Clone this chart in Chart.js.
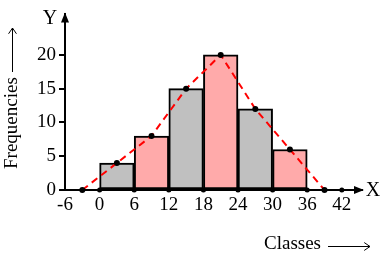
<!DOCTYPE html>
<html>
<head>
<meta charset="utf-8">
<script src="https://cdn.jsdelivr.net/npm/chart.js@4"></script>
<style>
  html, body { margin: 0; padding: 0; background: #fff; }
  #wrap { width: 385px; height: 256px; }
</style>
</head>
<body>
<div id="wrap"><canvas id="c"></canvas></div>
<script>
// class midpoints and frequencies
const classMids = [3, 9, 15, 21, 27, 33];
const frequencies = [4, 8, 15, 20, 12, 6];
const barColors = ['#c0c0c0', '#ffaaaa', '#c0c0c0', '#ffaaaa', '#c0c0c0', '#ffaaaa'];

// frequency polygon (closed at the empty classes on either side)
const polyX = [-3, 3, 9, 15, 21, 27, 33, 39];
const polyY = [0, 4, 8, 15, 20, 12, 6, 0];

const xTicks = [-6, 0, 6, 12, 18, 24, 30, 36, 42];
const yTicks = [0, 5, 10, 15, 20];
const axisDots = [0, 6, 12, 18, 24, 30, 36, 42];

const xTitle = 'Classes';
const yTitle = 'Frequencies';

const serif = "'Liberation Serif', 'Times New Roman', serif";

function longArrow(ctx, x1, y1, x2, y2) {
    // thin line with an open head, like a long rightwards arrow
    const ang = Math.atan2(y2 - y1, x2 - x1);
    ctx.beginPath();
    ctx.moveTo(x1, y1);
    ctx.lineTo(x2, y2);
    ctx.moveTo(x2 - 7 * Math.cos(ang - 0.6), y2 - 7 * Math.sin(ang - 0.6));
    ctx.lineTo(x2, y2);
    ctx.lineTo(x2 - 7 * Math.cos(ang + 0.6), y2 - 7 * Math.sin(ang + 0.6));
    ctx.stroke();
}

// arrows, X / Y letters and the axis titles
const axisDecor = {
    id: 'axisDecor',
    afterDraw(chart) {
        const ctx = chart.ctx, a = chart.chartArea;
        ctx.save();
        ctx.fillStyle = '#000';
        ctx.strokeStyle = '#000';
        // y arrow
        ctx.beginPath();
        ctx.moveTo(a.left, a.top - 2);
        ctx.lineTo(a.left - 4, a.top + 8);
        ctx.lineTo(a.left + 4, a.top + 8);
        ctx.closePath();
        ctx.fill();
        // x arrow
        ctx.beginPath();
        ctx.moveTo(a.right + 2, a.bottom);
        ctx.lineTo(a.right - 8, a.bottom - 4);
        ctx.lineTo(a.right - 8, a.bottom + 4);
        ctx.closePath();
        ctx.fill();
        ctx.font = '20px ' + serif;
        ctx.textBaseline = 'middle';
        ctx.textAlign = 'center';
        ctx.fillText('Y', a.left - 15, a.top + 4);
        ctx.fillText('X', a.right + 11, a.bottom + 1);

        // x title
        ctx.font = '19px ' + serif;
        ctx.textAlign = 'left';
        ctx.fillText(xTitle, 264, 244);
        ctx.lineWidth = 1;
        longArrow(ctx, 328, 246.5, 370, 246.5);

        // y title (rotated)
        ctx.save();
        ctx.translate(12, 169);
        ctx.rotate(-Math.PI / 2);
        ctx.textAlign = 'left';
        ctx.fillText(yTitle, 0, 0);
        ctx.restore();
        longArrow(ctx, 12.5, 72, 12.5, 28);
        ctx.restore();
    }
};

new Chart(document.getElementById('c'), {
    type: 'bar',
    data: {
        datasets: [
            {
                type: 'line',
                data: polyX.map((x, i) => ({ x: x, y: polyY[i] })),
                borderColor: '#ff0000',
                borderWidth: 2,
                borderDash: [7, 5],
                pointRadius: 3,
                pointBackgroundColor: '#000',
                pointBorderColor: '#000',
                pointBorderWidth: 0,
                fill: false,
                tension: 0,
                clip: false,
                order: 1
            },
            {
                type: 'scatter',
                data: axisDots.map(x => ({ x: x, y: 0 })),
                pointRadius: 2.5,
                pointBackgroundColor: '#000',
                pointBorderWidth: 0,
                clip: false,
                order: 2
            },
            {
                data: classMids.map((x, i) => ({ x: x, y: frequencies[i] })),
                backgroundColor: barColors,
                borderColor: '#000',
                borderWidth: 2,
                borderSkipped: false,
                barPercentage: 1,
                categoryPercentage: 1,
                order: 3
            }
        ]
    },
    options: {
        responsive: true,
        maintainAspectRatio: false,
        animation: false,
        layout: { padding: { left: 0, top: 10, right: 23, bottom: 0 } },
        plugins: { legend: { display: false }, tooltip: { enabled: false } },
        scales: {
            x: {
                type: 'linear',
                offset: false,
                min: -6,
                max: 45.5,
                afterBuildTicks: s => { s.ticks = xTicks.map(v => ({ value: v })); },
                afterFit: s => { s.height = 66; },
                grid: { display: false },
                border: { display: true, color: '#000', width: 2 },
                ticks: { color: '#000', font: { family: serif, size: 19 }, padding: -4, maxRotation: 0, autoSkip: false },
                title: { display: false }
            },
            y: {
                min: 0,
                max: 26,
                afterBuildTicks: s => { s.ticks = yTicks.map(v => ({ value: v })); },
                afterFit: s => { s.width = 65; },
                grid: { drawOnChartArea: false, drawTicks: true, tickLength: 6, color: '#000', lineWidth: 2 },
                border: { display: true, color: '#000', width: 2 },
                ticks: { color: '#000', font: { family: serif, size: 19 }, padding: 3 },
                title: { display: false }
            }
        }
    },
    plugins: [axisDecor]
});
</script>
</body>
</html>
